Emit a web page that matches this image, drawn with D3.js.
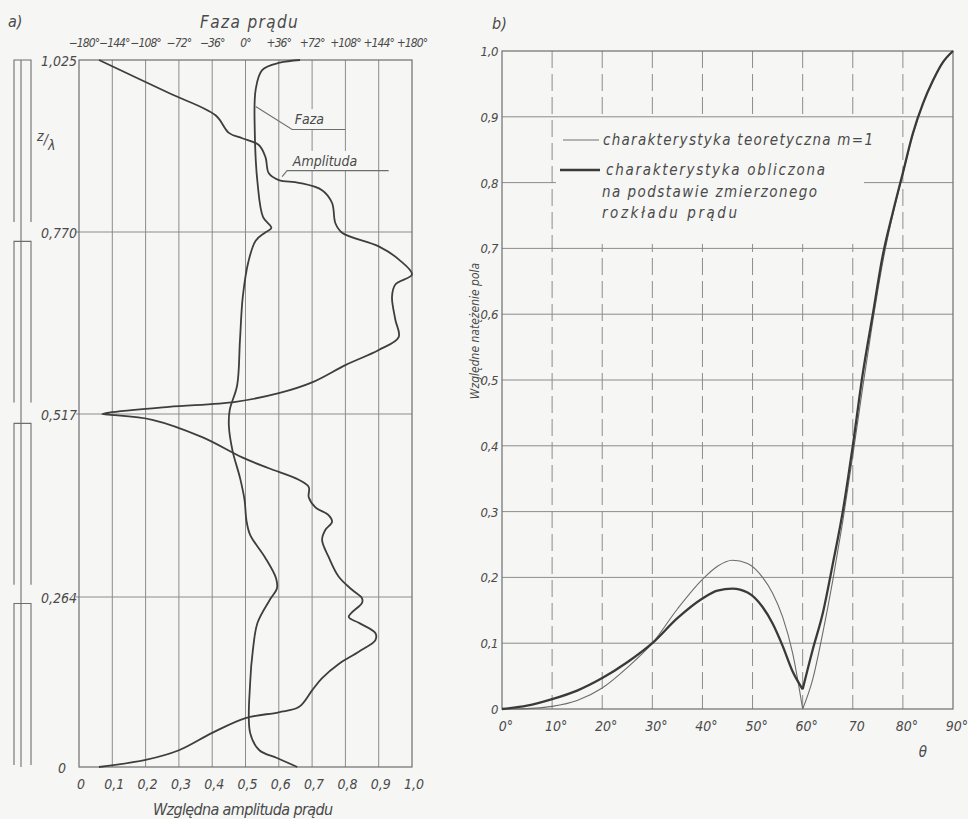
<!DOCTYPE html>
<html lang="pl">
<head>
<meta charset="utf-8">
<title>Rozkład prądu i charakterystyka promieniowania</title>
<script src="https://d3js.org/d3.v7.min.js"></script>
<style>
  body { margin: 0; background: #f6f6f4; }
  svg text {
    font-family: "DejaVu Sans Condensed", "Liberation Sans Narrow", "DejaVu Sans", sans-serif;
    font-style: italic;
    fill: #4a4a4a;
  }
  .grid { stroke: #8c8c8c; stroke-width: 1; fill: none; }
  .frame { stroke: #6e6e6e; stroke-width: 1.2; fill: none; }
  .sketch { stroke: #6e6e6e; stroke-width: 1.1; fill: none; }
</style>
</head>
<body>
<script>
var width = 968, height = 819;
var bg = "#f6f6f4";

// ---- a) rozklad pradu ----
var zTicks = [0, 0.264, 0.517, 0.770, 1.025];
var zLabels = ["0", "0,264", "0,517", "0,770", "1,025"];
var ampTicks = [0, 0.1, 0.2, 0.3, 0.4, 0.5, 0.6, 0.7, 0.8, 0.9, 1.0];
var ampLabels = ["0", "0,1", "0,2", "0,3", "0,4", "0,5", "0,6", "0,7", "0,8", "0,9", "1,0"];
var phaseTicks = [-180, -144, -108, -72, -36, 0, 36, 72, 108, 144, 180];
var phaseLabels = ["−180°", "−144°", "−108°", "−72°", "−36°", "0°", "+36°", "+72°", "+108°", "+144°", "+180°"];

// amplituda wzdluz anteny (z/lambda -> wzgledna amplituda)
var ampZ = [0, 0.011, 0.026, 0.053, 0.076, 0.085, 0.093, 0.119, 0.138, 0.16,
  0.179, 0.197, 0.208, 0.224, 0.233, 0.255, 0.262, 0.274, 0.292, 0.319,
  0.343, 0.357, 0.368, 0.377, 0.388, 0.402, 0.416, 0.426, 0.442, 0.457,
  0.485, 0.509, 0.516, 0.517, 0.519, 0.527, 0.534, 0.546, 0.561, 0.585,
  0.606, 0.624, 0.648, 0.680, 0.697, 0.711, 0.732, 0.750, 0.769, 0.783,
  0.813, 0.832, 0.843, 0.847, 0.857, 0.881, 0.899, 0.909, 0.917, 0.943,
  0.976, 1.025];
var ampVal = [0.06, 0.2, 0.3, 0.4, 0.5, 0.6, 0.66, 0.70, 0.73, 0.78,
  0.84, 0.89, 0.89, 0.84, 0.81, 0.85, 0.85, 0.82, 0.78, 0.75,
  0.73, 0.74, 0.76, 0.75, 0.71, 0.69, 0.69, 0.66, 0.57, 0.49,
  0.37, 0.22, 0.09, 0.07, 0.09, 0.27, 0.47, 0.60, 0.70, 0.80,
  0.90, 0.96, 0.95, 0.94, 0.95, 1.0, 0.96, 0.90, 0.79, 0.77,
  0.76, 0.73, 0.66, 0.60, 0.57, 0.56, 0.54, 0.49, 0.45, 0.41,
  0.27, 0.06];

// faza (stopnie)
var phaseZ = [0, 0.014, 0.026, 0.053, 0.130, 0.182, 0.224, 0.259, 0.276, 0.290,
  0.319, 0.350, 0.370, 0.398, 0.429, 0.466, 0.501, 0.523, 0.557, 0.619,
  0.679, 0.728, 0.758, 0.769, 0.776, 0.792, 0.843, 0.921, 0.981, 1.010,
  1.021, 1.025];
var phaseVal = [56, 34, 15, 5, 5, 8, 13, 26, 34, 33,
  21, 5, 1, -1, -6, -14, -18, -17, -9, -6,
  -3, 3, 11, 21, 28, 19, 13, 10, 11, 18,
  37, 59];

// odcinki anteny (szkic z lewej)
var antennaSegments = [[1.025, 0.785], [0.757, 0.533], [0.504, 0.281], [0.254, 0.003]];

// ---- b) charakterystyka ----
var thetaTicks = [0, 10, 20, 30, 40, 50, 60, 70, 80, 90];
var thetaLabels = ["0°", "10°", "20°", "30°", "40°", "50°", "60°", "70", "80°", "90°"];
var fieldTicks = [0, 0.1, 0.2, 0.3, 0.4, 0.5, 0.6, 0.7, 0.8, 0.9, 1.0];
var fieldLabels = ["0", "0,1", "0,2", "0,3", "0,4", "0,5", "0,6", "0,7", "0,8", "0,9", "1,0"];

var theta = [0, 5, 10, 15, 20, 25, 30, 35, 40, 43, 46, 49, 52, 54, 56, 58, 60,
  62, 64, 66, 68, 70, 72, 74, 76, 78, 80, 82, 84, 86, 88, 90];
var theory = [0, 0.0005, 0.004, 0.013, 0.032, 0.063, 0.1, 0.152, 0.197, 0.217, 0.226, 0.221, 0.2, 0.176, 0.14, 0.085, 0,
  0.045, 0.115, 0.195, 0.285, 0.385, 0.49, 0.59, 0.68, 0.752, 0.813, 0.873, 0.92, 0.955, 0.983, 1.0];
var measured = [0, 0.005, 0.015, 0.028, 0.047, 0.071, 0.1, 0.138, 0.168, 0.18, 0.183, 0.177, 0.155, 0.13, 0.096, 0.057, 0.03,
  0.09, 0.145, 0.22, 0.3, 0.4, 0.51, 0.6, 0.69, 0.755, 0.815, 0.875, 0.92, 0.955, 0.983, 1.0];

var svg = d3.select("body").append("svg")
  .attr("width", width)
  .attr("height", height)
  .style("display", "block")
  .style("background", bg);

// ================= panel a =================
var ax = d3.scaleLinear().domain([0, 1]).range([79, 412]);
var phx = d3.scaleLinear().domain([-180, 180]).range([79, 412]);
var zy = d3.scaleLinear().domain(zTicks).range([767, 597, 414, 232, 60]);

var ga = svg.append("g");

// szkic anteny
antennaSegments.forEach(function(s) {
  ga.append("path").attr("class", "sketch")
    .attr("d", "M14," + zy(s[1]) + "V" + zy(s[0]) + "H31V" + zy(s[1]));
});
ga.append("line").attr("class", "sketch")
  .attr("x1", 21).attr("x2", 21)
  .attr("y1", zy(1.025)).attr("y2", zy(0));

var zl = ga.append("text").attr("x", 37).attr("y", 141).style("font-size", "14px");
zl.append("tspan").text("z");
zl.append("tspan").attr("dy", 3).text("/");
zl.append("tspan").attr("dy", 6).text("λ");

// siatka
ga.selectAll(".vgrid").data(ampTicks.slice(1, -1)).enter().append("line")
  .attr("class", "grid")
  .attr("x1", ax).attr("x2", ax)
  .attr("y1", zy(1.025)).attr("y2", zy(0));
ga.selectAll(".hgrid").data(zTicks.slice(1, -1)).enter().append("line")
  .attr("class", "grid")
  .attr("x1", ax(0) - 3).attr("x2", ax(1))
  .attr("y1", zy).attr("y2", zy);
ga.append("rect").attr("class", "frame")
  .attr("x", ax(0)).attr("y", zy(1.025))
  .attr("width", ax(1) - ax(0)).attr("height", zy(0) - zy(1.025));

// opisy osi
ga.selectAll(".zlab").data(zTicks).enter().append("text")
  .attr("x", function(d) { return d === 0 ? 66 : 77; })
  .attr("y", function(d) { return zy(d) + 6; })
  .attr("text-anchor", "end")
  .style("font-size", "14px")
  .text(function(d, i) { return zLabels[i]; });

ga.selectAll(".alab").data(ampTicks).enter().append("text")
  .attr("x", function(d) { return ax(d) + 2; })
  .attr("y", 789)
  .attr("text-anchor", "middle")
  .style("font-size", "14px")
  .text(function(d, i) { return ampLabels[i]; });

ga.selectAll(".plab").data(phaseTicks).enter().append("text")
  .attr("x", function(d) { return phx(d) + (d === -180 ? 5 : d === -144 ? 2 : 0); })
  .attr("y", 47)
  .attr("text-anchor", "middle")
  .style("font-size", "12px")
  .style("letter-spacing", "-0.9px")
  .text(function(d, i) { return phaseLabels[i]; });

ga.append("text").attr("x", 8).attr("y", 27).style("font-size", "16px").text("a)");
ga.append("text").attr("x", 200).attr("y", 28).style("font-size", "17px")
  .style("letter-spacing", "1.4px").text("Faza prądu");
ga.append("text").attr("x", 153).attr("y", 815).style("font-size", "16px")
  .attr("textLength", 180).text("Względna amplituda prądu");

// krzywe
var zLine = d3.line()
  .x(function(d) { return d[0]; })
  .y(function(d) { return zy(d[1]); })
  .curve(d3.curveCatmullRom.alpha(0.5));

ga.append("path")
  .attr("d", zLine(ampZ.map(function(z, i) { return [ax(ampVal[i]), z]; })))
  .attr("fill", "none").attr("stroke", "#3e3e3e").attr("stroke-width", 1.8);
ga.append("path")
  .attr("d", zLine(phaseZ.map(function(z, i) { return [phx(phaseVal[i]), z]; })))
  .attr("fill", "none").attr("stroke", "#3e3e3e").attr("stroke-width", 1.8);

// etykiety krzywych z odnosnikami
function tag(g, label, x, y, fs) {
  var t = g.append("text").attr("x", x).attr("y", y).style("font-size", fs + "px").text(label);
  var b = t.node().getBBox();
  g.insert("rect", function() { return t.node(); })
    .attr("x", b.x - 3).attr("y", b.y - 2)
    .attr("width", b.width + 6).attr("height", b.height + 4)
    .attr("fill", bg);
  return t;
}
tag(ga, "Faza", ax(0.648), zy(0.93), 14);
tag(ga, "Amplituda", ax(0.642), zy(0.868), 14);
ga.append("path").attr("class", "sketch")
  .attr("d", "M" + phx(11) + "," + zy(0.956) + "L" + ax(0.64) + "," + zy(0.922) + "H" + ax(0.8));
ga.append("path").attr("class", "sketch")
  .attr("d", "M" + ax(0.61) + "," + zy(0.852) + "L" + ax(0.625) + "," + zy(0.861) + "H" + ax(0.93));

// ================= panel b =================
var tx = d3.scaleLinear().domain([0, 90]).range([502, 953]);
var ey = d3.scaleLinear().domain([0, 1]).range([709, 51]);

var gb = svg.append("g");

gb.selectAll(".hg").data(fieldTicks.slice(1, -1)).enter().append("line")
  .attr("class", "grid")
  .attr("x1", tx(0)).attr("x2", tx(90))
  .attr("y1", ey).attr("y2", ey);
gb.selectAll(".vg").data(thetaTicks.slice(1, -1)).enter().append("line")
  .attr("class", "grid")
  .attr("stroke-dasharray", "17,6")
  .attr("x1", tx).attr("x2", tx)
  .attr("y1", ey(1)).attr("y2", ey(0));

// tlo legendy zaslania siatke
gb.append("rect")
  .attr("x", 556).attr("y", 120).attr("width", 308).attr("height", 124)
  .attr("fill", bg);

gb.append("rect").attr("class", "frame")
  .attr("x", tx(0)).attr("y", ey(1))
  .attr("width", tx(90) - tx(0)).attr("height", ey(0) - ey(1));

gb.selectAll(".flab").data(fieldTicks).enter().append("text")
  .attr("x", 498)
  .attr("y", function(d) { return ey(d) + 5; })
  .attr("text-anchor", "end")
  .style("font-size", "13px")
  .style("letter-spacing", "-0.4px")
  .text(function(d, i) { return fieldLabels[i]; });

gb.selectAll(".tlab").data(thetaTicks).enter().append("text")
  .attr("x", function(d) { return tx(d) + 4; })
  .attr("y", 731)
  .attr("text-anchor", "middle")
  .style("font-size", "14px")
  .text(function(d, i) { return thetaLabels[i]; });

gb.append("text").attr("x", 923).attr("y", 757).attr("text-anchor", "middle")
  .style("font-size", "15px").text("θ");
gb.append("text").attr("x", 492).attr("y", 29).style("font-size", "16px").text("b)");
gb.append("text")
  .attr("transform", "translate(479,331) rotate(-90)")
  .attr("text-anchor", "middle")
  .style("font-size", "12px")
  .text("Względne natężenie pola");

// legenda
gb.append("line").attr("x1", 563).attr("x2", 599).attr("y1", 140).attr("y2", 140)
  .attr("stroke", "#707070").attr("stroke-width", 1.1);
gb.append("line").attr("x1", 560).attr("x2", 600).attr("y1", 170).attr("y2", 170)
  .attr("stroke", "#3a3a3a").attr("stroke-width", 2.3);
var legendRows = [
  ["charakterystyka teoretyczna m=1", 603, 145, 270],
  ["charakterystyka obliczona", 606, 175, 219],
  ["na podstawie zmierzonego", 602, 197, 215],
  ["rozkładu prądu", 602, 218, 135]
];
gb.selectAll(".leg").data(legendRows).enter().append("text")
  .attr("x", function(d) { return d[1]; })
  .attr("y", function(d) { return d[2]; })
  .attr("textLength", function(d) { return d[3]; })
  .attr("lengthAdjust", "spacing")
  .style("font-size", "15px")
  .text(function(d) { return d[0]; });

// krzywe (ostre minimum przy 60 stopniach)
var fLine = d3.line()
  .x(function(d) { return tx(d[0]); })
  .y(function(d) { return ey(d[1]); })
  .curve(d3.curveMonotoneX);

function branches(vals) {
  var pts = theta.map(function(t, i) { return [t, vals[i]]; });
  return [pts.filter(function(p) { return p[0] <= 60; }),
          pts.filter(function(p) { return p[0] >= 60; })];
}

branches(theory).forEach(function(b) {
  gb.append("path").attr("d", fLine(b))
    .attr("fill", "none").attr("stroke", "#6c6c6c").attr("stroke-width", 1.1);
});
branches(measured).forEach(function(b) {
  gb.append("path").attr("d", fLine(b))
    .attr("fill", "none").attr("stroke", "#3a3a3a").attr("stroke-width", 2.3);
});
</script>
</body>
</html>
